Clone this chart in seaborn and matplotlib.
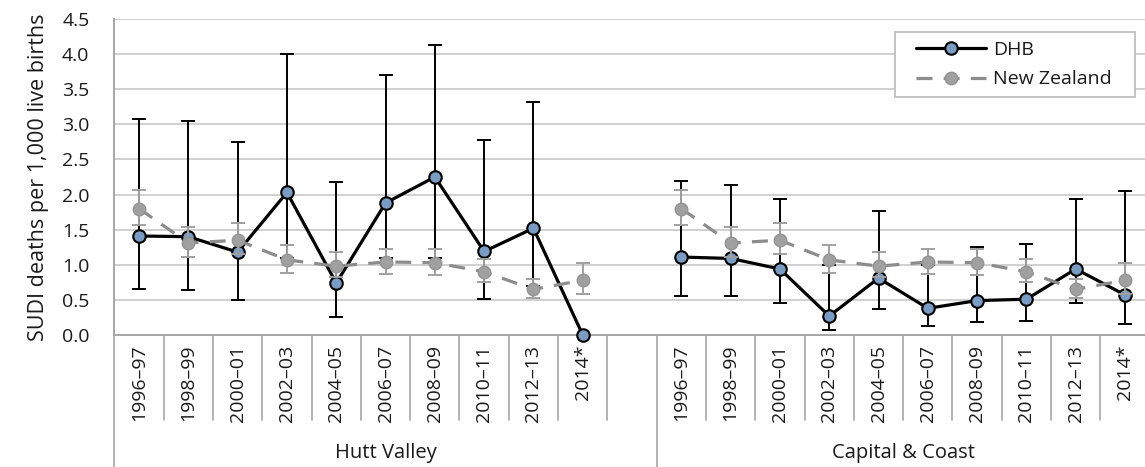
import numpy as np
import pandas as pd
import seaborn as sns
import matplotlib.pyplot as plt
from matplotlib.lines import Line2D
from matplotlib.patches import Rectangle

# data
periods = ['1996–97', '1998–99', '2000–01', '2002–03', '2004–05',
           '2006–07', '2008–09', '2010–11', '2012–13', '2014*']
groups = ['Hutt Valley', 'Capital & Coast']

hutt_rate = [1.41, 1.40, 1.18, 2.03, 0.74, 1.88, 2.25, 1.19, 1.52, 0.0]
hutt_lower = [0.65, 0.64, 0.50, 1.10, 0.25, 1.10, 1.10, 0.51, 0.70, np.nan]
hutt_upper = [3.08, 3.05, 2.75, 4.00, 2.18, 3.70, 4.13, 2.78, 3.32, np.nan]

cc_rate = [1.11, 1.09, 0.94, 0.27, 0.81, 0.38, 0.49, 0.51, 0.94, 0.57]
cc_lower = [0.56, 0.55, 0.45, 0.07, 0.37, 0.13, 0.19, 0.20, 0.45, 0.16]
cc_upper = [2.19, 2.14, 1.94, 1.00, 1.77, 1.00, 1.26, 1.30, 1.93, 2.05]

nz_rate = [1.80, 1.31, 1.35, 1.07, 0.98, 1.04, 1.03, 0.90, 0.65, 0.78]
nz_lower = [1.57, 1.11, 1.15, 0.89, 0.82, 0.87, 0.86, 0.75, 0.52, 0.58]
nz_upper = [2.06, 1.54, 1.59, 1.28, 1.18, 1.23, 1.22, 1.08, 0.80, 1.03]

sns.set_style('white')
plt.rcParams['font.family'] = ['Open Sans', 'DejaVu Sans']

axis_grey = '#a6a6a6'
text_col = '#1a1a1a'
dhb_fill = '#7b9cc2'
nz_grey = '#a0a0a0'

# build one table: slot positions 0-9 for Hutt Valley, 11-20 for Capital & Coast
rows = []
for g, (rate, lo, hi) in enumerate([(hutt_rate, hutt_lower, hutt_upper),
                                     (cc_rate, cc_lower, cc_upper)]):
    for i, p in enumerate(periods):
        pos = g * (len(periods) + 1) + i
        rows.append([groups[g], p, pos, 'DHB', rate[i], lo[i], hi[i]])
        rows.append([groups[g], p, pos, 'New Zealand', nz_rate[i], nz_lower[i], nz_upper[i]])
df = pd.DataFrame(rows, columns=['group', 'period', 'pos', 'series', 'rate', 'lower', 'upper'])

fig = plt.figure(figsize=(11.45, 4.67), dpi=100)
ax = fig.add_axes([114.4 / 1145, 132 / 467, 1035.3 / 1145, 316 / 467])

for g in groups:
    sub = df[(df.group == g) & (df.series == 'DHB')]
    ok = sub.dropna(subset=['lower'])
    ax.errorbar(ok.pos, ok.rate, yerr=[ok.rate - ok.lower, ok.upper - ok.rate],
                fmt='none', ecolor='black', elinewidth=1.4, capsize=5, capthick=1.4, zorder=3)
    sns.lineplot(data=sub, x='pos', y='rate', ax=ax, color='black', linewidth=2.3,
                 marker='o', markersize=9, markerfacecolor=dhb_fill, markeredgecolor='black',
                 markeredgewidth=1.5, label='DHB' if g == groups[0] else None,
                 clip_on=False, zorder=4)

for g in groups:
    sub = df[(df.group == g) & (df.series == 'New Zealand')]
    ax.errorbar(sub.pos, sub.rate, yerr=[sub.rate - sub.lower, sub.upper - sub.rate],
                fmt='none', ecolor=nz_grey, elinewidth=1.4, capsize=5, capthick=1.4, zorder=5)
    sns.lineplot(data=sub, x='pos', y='rate', ax=ax, color='#8c8c8c', linewidth=2.3,
                 linestyle=(0, (5, 3.5)), marker='o', markersize=9, markerfacecolor=nz_grey,
                 markeredgecolor='#949494', markeredgewidth=1,
                 label='New Zealand' if g == groups[0] else None, clip_on=False, zorder=6)

# axes
ax.set_xlim(-0.5, 20.5)
ax.set_ylim(0, 4.5)
ax.set_yticks(np.arange(0, 4.51, 0.5))
ax.set_yticklabels([f'{v:.1f}' for v in np.arange(0, 4.51, 0.5)])
ax.yaxis.grid(True, color='#d0d0d0', linewidth=1.4)
ax.set_axisbelow(True)
ax.tick_params(axis='y', length=5, width=1.2, color=axis_grey, pad=13, labelsize=14,
               labelcolor=text_col)

tick_pos = df.pos.unique()
ax.set_xticks(tick_pos)
ax.set_xticklabels(df.drop_duplicates('pos').period, rotation=90, fontsize=14,
                   color=text_col)
ax.tick_params(axis='x', length=0, pad=7)
ax.set_xlabel('')
ax.set_ylabel('SUDI deaths per 1,000 live births', fontsize=15.5, color=text_col, labelpad=9)

for side in ['top', 'right']:
    ax.spines[side].set_visible(False)
for side in ['left', 'bottom']:
    ax.spines[side].set_color(axis_grey)
    ax.spines[side].set_linewidth(1.4)

# category separators and group separators below the axis
trans = ax.get_xaxis_transform()
for k in range(22):
    x = k - 0.5
    if k in (0, 11, 21):
        ax.add_line(Line2D([x, x], [0, -0.42], transform=trans, color=axis_grey,
                           linewidth=1.2, clip_on=False))
    else:
        ax.add_line(Line2D([x, x], [0, -0.27], transform=trans, color=axis_grey,
                           linewidth=1.2, clip_on=False))
for g, xc in zip(groups, [5.0, 15.5]):
    ax.text(xc, -0.373, g, transform=trans, ha='center', va='center', fontsize=14.5,
            color=text_col)

# legend box drawn separately so its padding matches the reference
ax.add_patch(Rectangle((0.754, 0.753), 0.232, 0.206, transform=ax.transAxes,
                       facecolor='white', edgecolor='#bfbfbf', linewidth=1.3, zorder=7))
leg = ax.legend(loc='center left', bbox_to_anchor=(0.774, 0.855), fontsize=14,
                frameon=False, handlelength=3.6, handletextpad=0.36, borderpad=0,
                labelspacing=0.57, borderaxespad=0)
leg.set_zorder(8)
for t in leg.get_texts():
    t.set_color(text_col)

fig.savefig('out.png', dpi=100)
